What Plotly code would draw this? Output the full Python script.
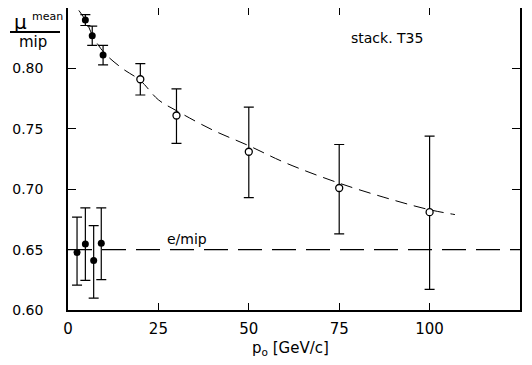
import plotly.graph_objects as go

# ---- data ----
open_x = [20, 30, 50, 75, 100]
open_y = [0.791, 0.761, 0.731, 0.701, 0.681]
open_err_plus = [0.013, 0.022, 0.037, 0.036, 0.063]
open_err_minus = [0.013, 0.023, 0.038, 0.038, 0.064]

solid_hi_x = [4.8, 6.7, 9.7]
solid_hi_y = [0.840, 0.827, 0.811]
solid_hi_err = [0.0045, 0.008, 0.008]

solid_lo_x = [2.5, 4.8, 7.1, 9.2]
solid_lo_y = [0.6475, 0.6546, 0.6409, 0.6552]
solid_lo_err_plus = [0.0294, 0.030, 0.029, 0.0294]
solid_lo_err_minus = [0.0269, 0.030, 0.031, 0.030]

fit_x = [3, 5, 7, 10, 15, 20, 25, 30, 40, 50, 60, 75, 90, 100, 107]
fit_y = [0.848, 0.839, 0.826, 0.813, 0.800, 0.790, 0.774, 0.765, 0.749, 0.736,
         0.722, 0.705, 0.691, 0.683, 0.679]

emip_x = [0, 125]
emip_y = [0.65, 0.65]

x_ticks = [0, 25, 50, 75, 100, 125]
y_ticks = [0.60, 0.65, 0.70, 0.75, 0.80]
y_ticktext = ["0.60", "0.65", "0.70", "0.75", "0.80"]

FONT = "DejaVu Sans"

fig = go.Figure()

fig.add_trace(go.Scatter(x=fit_x, y=fit_y, mode="lines",
                         line=dict(color="black", width=1, dash="12px,7px", shape="spline"),
                         showlegend=False, hoverinfo="skip"))
fig.add_trace(go.Scatter(x=emip_x, y=emip_y, mode="lines",
                         line=dict(color="black", width=1.2, dash="24px,10px"),
                         showlegend=False, hoverinfo="skip"))

fig.add_trace(go.Scatter(
    x=open_x, y=open_y, mode="markers",
    marker=dict(symbol="circle", size=7, color="white", line=dict(color="black", width=1.3)),
    error_y=dict(type="data", symmetric=False, array=open_err_plus, arrayminus=open_err_minus,
                 color="black", thickness=1.2, width=5),
    showlegend=False))

fig.add_trace(go.Scatter(
    x=solid_hi_x, y=solid_hi_y, mode="markers",
    marker=dict(symbol="circle", size=7, color="black"),
    error_y=dict(type="data", array=solid_hi_err, color="black", thickness=1.2, width=5),
    showlegend=False))

fig.add_trace(go.Scatter(
    x=solid_lo_x, y=solid_lo_y, mode="markers",
    marker=dict(symbol="circle", size=7, color="black"),
    error_y=dict(type="data", symmetric=False, array=solid_lo_err_plus, arrayminus=solid_lo_err_minus,
                 color="black", thickness=1.2, width=5),
    showlegend=False))

fig.update_xaxes(range=[0, 125], tickvals=x_ticks, ticks="inside", ticklen=7, tickwidth=1.3,
                 tickcolor="black", showline=True, linecolor="black", linewidth=1.6,
                 mirror="ticks", showgrid=False, zeroline=False, automargin=False,
                 tickfont=dict(family=FONT, size=15, color="black"),
                 ticklabelstandoff=4)
fig.update_yaxes(range=[0.60, 0.85], tickvals=y_ticks, ticktext=y_ticktext, ticks="inside", ticklen=8,
                 tickwidth=1.3, tickcolor="black", showline=True, linecolor="black", linewidth=1.6,
                 mirror="ticks", showgrid=False, zeroline=False, automargin=False,
                 tickfont=dict(family=FONT, size=14, color="black"),
                 ticklabelstandoff=20)

# page body adds an 8px offset; compensate so the plot sits where the reference has it
OFF = 8
W, H = 532 - OFF, 365 - OFF
L, R, T, B = 60, 12, 0, 55
pw, ph = W - L - R, H - T - B

def px_x(p):
    return (p - OFF - L) / pw

def px_y(p):
    return (H - B - (p - OFF)) / ph

def note(text, x, y, size):
    fig.add_annotation(text=text, xref="paper", yref="paper", x=px_x(x), y=px_y(y),
                       xanchor="center", yanchor="middle", showarrow=False, borderpad=0,
                       font=dict(family=FONT, size=size, color="black"))

note("μ", 20, 22, 20)
note("mean", 47, 16, 11)
note("mip", 33, 42, 15)
fig.add_shape(type="line", xref="paper", yref="paper", x0=px_x(10), x1=px_x(60),
              y0=px_y(32), y1=px_y(32), line=dict(color="black", width=2))
note("p<sub>o</sub> [GeV/c]", 290, 349, 15)

fig.add_annotation(text="stack. T35", x=88.3, y=0.825, showarrow=False,
                   font=dict(family=FONT, size=14, color="black"))
fig.add_annotation(text="e/mip", x=33, y=0.659, showarrow=False,
                   font=dict(family=FONT, size=14, color="black"))

fig.update_layout(width=W, height=H, margin=dict(l=L, r=R, t=T, b=B, autoexpand=False),
                  paper_bgcolor="white", plot_bgcolor="white")

fig.write_html("out.html")
